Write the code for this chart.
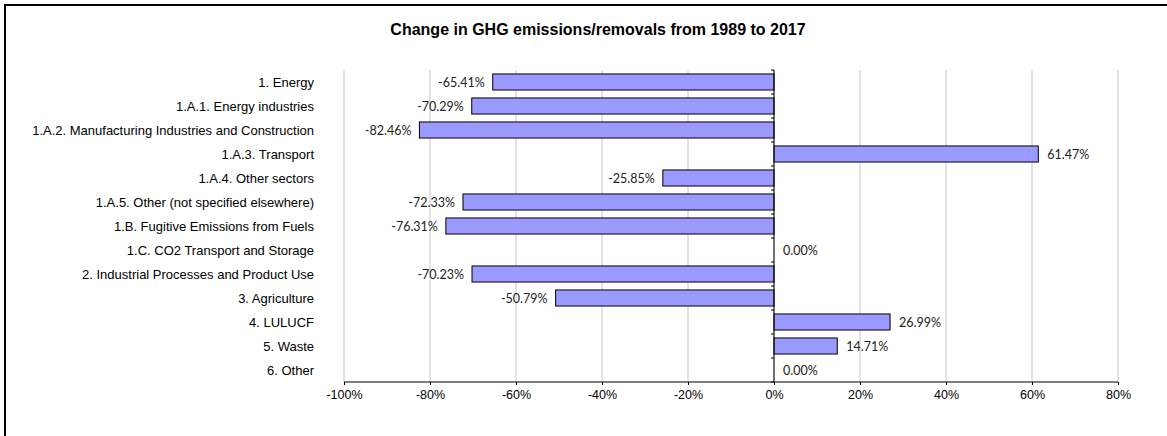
<!DOCTYPE html>
<html lang="en">
  <head>
    <meta charset="UTF-8" />
    <script src="https://d3js.org/d3.v7.min.js"></script>
    <style>
      body {
        margin: 0;
        background: #fff;
      }
      .cat-label {
        font-family: Arial, "Liberation Sans", sans-serif;
        font-size: 13px;
        fill: #000;
      }
      .val-label {
        font-family: Lato, "Open Sans", sans-serif;
        font-size: 12.5px;
        fill: #222;
      }
      .x-axis text {
        font-family: Arial, "Liberation Sans", sans-serif;
        font-size: 12.5px;
        fill: #000;
      }
    </style>
    <title>Change in GHG emissions/removals</title>
  </head>
  <body>
    <div id="chart"></div>
    <script>
      // categories, top to bottom
      const categories = [
        "1. Energy",
        "1.A.1. Energy industries",
        "1.A.2. Manufacturing Industries and Construction",
        "1.A.3. Transport",
        "1.A.4. Other sectors",
        "1.A.5. Other (not specified elsewhere)",
        "1.B. Fugitive Emissions from Fuels",
        "1.C. CO2 Transport and Storage",
        "2. Industrial Processes and Product Use",
        "3. Agriculture",
        "4. LULUCF",
        "5. Waste",
        "6. Other",
      ];

      // change in percent
      const changes = [
        -65.41, -70.29, -82.46, 61.47, -25.85, -72.33, -76.31, 0.0, -70.23,
        -50.79, 26.99, 14.71, 0.0,
      ];

      const xTicks = [-100, -80, -60, -40, -20, 0, 20, 40, 60, 80];
      const title = "Change in GHG emissions/removals from 1989 to 2017";

      const width = 1167;
      const height = 436;
      const margin = { top: 70, right: 49, bottom: 54, left: 344 };
      const innerWidth = width - margin.left - margin.right;
      const innerHeight = height - margin.top - margin.bottom;

      const data = categories.map((c, i) => ({ key: c, value: changes[i] }));

      const svg = d3
        .select("#chart")
        .append("svg")
        .attr("width", width)
        .attr("height", height)
        .style("display", "block");

      // outer frame: only the top and left edges are in view
      svg
        .append("line")
        .attr("x1", 4)
        .attr("x2", width)
        .attr("y1", 5)
        .attr("y2", 5)
        .attr("stroke", "#000")
        .attr("stroke-width", 2);
      svg
        .append("line")
        .attr("x1", 5)
        .attr("x2", 5)
        .attr("y1", 4)
        .attr("y2", height)
        .attr("stroke", "#000")
        .attr("stroke-width", 2);

      svg
        .append("text")
        .attr("x", 598)
        .attr("y", 35)
        .attr("text-anchor", "middle")
        .style("font-family", "Arial, 'Liberation Sans', sans-serif")
        .style("font-size", "16px")
        .style("font-weight", "bold")
        .text(title);

      const g = svg
        .append("g")
        .attr("transform", `translate(${margin.left},${margin.top})`);

      //scales
      const xScale = d3
        .scaleLinear()
        .domain([-100, 80])
        .range([0, innerWidth]);

      const yScale = d3
        .scaleBand()
        .domain(categories)
        .range([0, innerHeight])
        .paddingInner(0.33)
        .paddingOuter(0.165);

      const step = yScale.step();
      const mid = (k) => yScale(k) + yScale.bandwidth() / 2;

      //gridlines
      g.selectAll("line.grid")
        .data(xTicks)
        .join("line")
        .attr("class", "grid")
        .attr("x1", (d) => xScale(d))
        .attr("x2", (d) => xScale(d))
        .attr("y1", 0)
        .attr("y2", innerHeight)
        .attr("stroke", "#c8c8c8")
        .attr("stroke-width", 1);

      //bars
      g.selectAll("rect.bar")
        .data(data)
        .join("rect")
        .attr("class", "bar")
        .attr("x", (d) => xScale(Math.min(0, d.value)))
        .attr("y", (d) => yScale(d.key))
        .attr("width", (d) => Math.abs(xScale(d.value) - xScale(0)))
        .attr("height", yScale.bandwidth())
        .attr("fill", "#9999ff")
        .attr("stroke", (d) => (d.value === 0 ? "none" : "#000"))
        .attr("stroke-width", 1);

      //x axis
      const gX = g
        .append("g")
        .attr("class", "x-axis")
        .attr("transform", `translate(0,${innerHeight})`)
        .call(
          d3
            .axisBottom(xScale)
            .tickValues(xTicks)
            .tickSize(3)
            .tickPadding(5)
            .tickFormat((d) => d + "%")
        );
      gX.select(".domain").attr("stroke", "#000").attr("d", `M0,0H${innerWidth}`);
      gX.selectAll(".tick line").attr("stroke", "#000");

      //zero axis with small ticks at band edges
      const zx = xScale(0);
      g.append("line")
        .attr("x1", zx)
        .attr("x2", zx)
        .attr("y1", 0)
        .attr("y2", innerHeight)
        .attr("stroke", "#000");

      g.selectAll("line.ytick")
        .data(d3.range(categories.length + 1))
        .join("line")
        .attr("class", "ytick")
        .attr("x1", zx - 3)
        .attr("x2", zx)
        .attr("y1", (i) => i * step)
        .attr("y2", (i) => i * step)
        .attr("stroke", "#000");

      //category labels
      g.selectAll("text.cat-label")
        .data(categories)
        .join("text")
        .attr("class", "cat-label")
        .attr("x", -30)
        .attr("y", (d) => mid(d) + 4.5)
        .attr("text-anchor", "end")
        .text((d) => d);

      //value labels
      g.selectAll("text.val-label")
        .data(data)
        .join("text")
        .attr("class", "val-label")
        .attr("x", (d) => (d.value < 0 ? xScale(d.value) - 8 : xScale(d.value) + 9))
        .attr("y", (d) => mid(d.key) + 4.5)
        .attr("text-anchor", (d) => (d.value < 0 ? "end" : "start"))
        .text((d) => d.value.toFixed(2) + "%");
    </script>
  </body>
</html>
